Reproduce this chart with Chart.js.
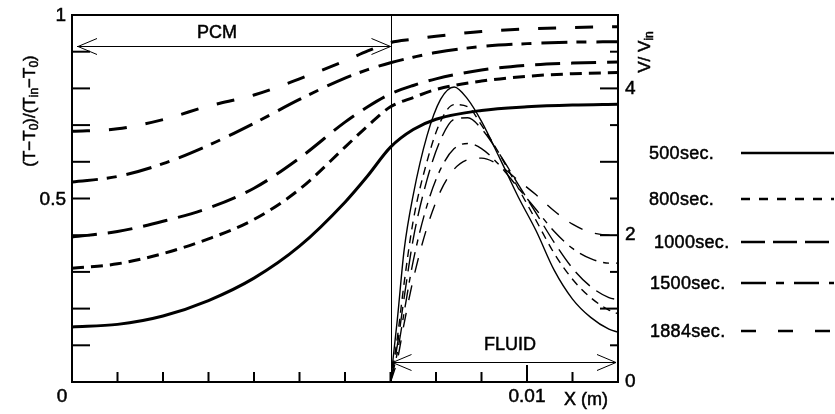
<!DOCTYPE html>
<html><head><meta charset="utf-8">
<script src="https://cdn.jsdelivr.net/npm/chart.js@4.4.0/dist/chart.umd.min.js"></script>
<style>html,body{margin:0;padding:0;background:#fff;}#wrap{width:835px;height:414px;}</style>
</head><body><div id="wrap"><canvas id="c" width="835" height="414"></canvas></div>
<script>
// ---- data (x in metres) ----
const tempX   = [0, 0.001, 0.002, 0.003, 0.004, 0.005, 0.006, 0.0065, 0.007, 0.0075, 0.008, 0.009, 0.010, 0.011, 0.012];
const temp500  = [0.150, 0.157, 0.180, 0.222, 0.283, 0.370, 0.490, 0.562, 0.640, 0.688, 0.716, 0.740, 0.750, 0.755, 0.757];
const temp800  = [0.310, 0.322, 0.350, 0.390, 0.443, 0.525, 0.640, 0.698, 0.750, 0.775, 0.797, 0.820, 0.833, 0.840, 0.843];
const temp1000 = [0.395, 0.410, 0.438, 0.474, 0.528, 0.610, 0.708, 0.750, 0.785, 0.808, 0.826, 0.850, 0.863, 0.869, 0.872];
const temp1500 = [0.545, 0.560, 0.595, 0.645, 0.705, 0.770, 0.828, 0.851, 0.870, 0.885, 0.898, 0.914, 0.922, 0.926, 0.927];
const temp1884 = [0.683, 0.690, 0.715, 0.752, 0.782, 0.826, 0.875, 0.902, 0.925, 0.934, 0.942, 0.955, 0.962, 0.966, 0.968];

const velX    = [0.007, 0.00715, 0.0073, 0.0075, 0.0078, 0.0081, 0.0084, 0.0087, 0.009, 0.0094, 0.0098, 0.0102, 0.0106, 0.011, 0.0114, 0.0118, 0.012];
const vel500  = [0, 0.85, 1.80, 2.55, 3.35, 3.85, 4.02, 3.85, 3.55, 3.05, 2.53, 2.06, 1.52, 1.13, 0.88, 0.72, 0.68];
const vel800  = [0, 0.60, 1.35, 2.20, 3.00, 3.55, 3.78, 3.75, 3.50, 3.10, 2.65, 2.20, 1.75, 1.40, 1.15, 0.98, 0.93];
const vel1000 = [0, 0.50, 1.15, 1.95, 2.75, 3.30, 3.58, 3.60, 3.45, 3.10, 2.70, 2.30, 1.90, 1.55, 1.30, 1.15, 1.12];
const vel1500 = [0, 0.40, 0.95, 1.65, 2.40, 2.90, 3.18, 3.25, 3.18, 2.95, 2.65, 2.35, 2.05, 1.82, 1.68, 1.62, 1.62];
const vel1884 = [0, 0.30, 0.80, 1.40, 2.10, 2.60, 2.90, 3.03, 3.05, 2.95, 2.75, 2.55, 2.33, 2.15, 2.04, 2.00, 2.03];

const seriesLabels = ['500sec.', '800sec.', '1000sec.', '1500sec.', '1884sec.'];
const tempSeries = [temp500, temp800, temp1000, temp1500, temp1884];
const velSeries  = [vel500, vel800, vel1000, vel1500, vel1884];

const xTickVals = [0.001,0.002,0.003,0.004,0.005,0.006,0.007,0.008,0.009,0.010,0.011];
const xTickLabels = [{v:0, t:'0'}, {v:0.01, t:'0.01'}];
const leftTickVals = [0.1,0.2,0.3,0.4,0.5,0.6,0.7,0.8,0.9];
const leftTickLabels = [{v:0.5, t:'0.5'}, {v:1, t:'1'}];
const rightTickVals = [0.5,1,1.5,2,2.5,3,3.5,4,4.5];
const rightTickLabels = [{v:0, t:'0'}, {v:2, t:'2'}, {v:4, t:'4'}];
const pcmBoundary = 0.007;

// ---- styles ----
const tempDash = [[], [12,7], [25,11], [26,9,10,10], [18,19]];
const velDash  = [[], [8,6], [20,8], [18,7,6,7], [15,13]];
const legDash  = [[], [9,9], [24,8], [25,10,8,10], [15,22]];
const FONT = '"Liberation Sans", Arial, Helvetica, sans-serif';

const datasets = [];
seriesLabels.forEach((lab, i) => {
  datasets.push({
    label: lab + ' T', yAxisID: 'yT',
    data: tempX.map((x, k) => ({x, y: tempSeries[i][k]})),
    borderColor: '#000', borderWidth: 3, borderDash: tempDash[i],
    pointRadius: 0, fill: false, cubicInterpolationMode: 'monotone'
  });
  datasets.push({
    label: lab + ' V', yAxisID: 'yV',
    data: velX.map((x, k) => ({x, y: velSeries[i][k]})),
    borderColor: '#000', borderWidth: 1.4, borderDash: velDash[i],
    pointRadius: 0, fill: false, cubicInterpolationMode: 'monotone'
  });
});

function txt(ctx, s, x, y) {
  ctx.fillText(s, x, y);
  ctx.strokeText(s, x, y);
}
function richWidth(ctx, parts, big, small) {
  let w = 0;
  parts.forEach(p => { ctx.font = (p.sub ? small : big) + 'px ' + FONT; w += ctx.measureText(p.t).width; });
  return w;
}
function drawRich(ctx, parts, x, y, big, small) {
  let cx = x;
  parts.forEach(p => {
    ctx.font = (p.sub ? small : big) + 'px ' + FONT;
    txt(ctx, p.t, cx, p.sub ? y + 5 : y);
    cx += ctx.measureText(p.t).width;
  });
}
function arrowHead(ctx, tx, ty, dir) {
  ctx.beginPath();
  ctx.moveTo(tx + dir*19, ty - 8); ctx.lineTo(tx, ty); ctx.lineTo(tx + dir*19, ty + 8);
  ctx.stroke();
}

const deco = {
  id: 'deco',
  afterDraw(chart) {
    const ctx = chart.ctx, a = chart.chartArea;
    const xs = chart.scales.x, yT = chart.scales.yT, yV = chart.scales.yV;
    ctx.save();
    ctx.strokeStyle = '#000'; ctx.fillStyle = '#000';
    // top border
    ctx.lineWidth = 2;
    ctx.beginPath(); ctx.moveTo(a.left - 1, a.top); ctx.lineTo(a.right + 1, a.top); ctx.stroke();
    // boundary line
    const bx = Math.round(xs.getPixelForValue(pcmBoundary)) + 0.5;
    ctx.lineWidth = 1;
    ctx.beginPath(); ctx.moveTo(bx, a.top); ctx.lineTo(bx, a.bottom); ctx.stroke();
    // inward ticks
    ctx.lineWidth = 2;
    leftTickVals.forEach(v => {
      const y = yT.getPixelForValue(v);
      ctx.beginPath(); ctx.moveTo(a.left, y); ctx.lineTo(a.left + 18, y); ctx.stroke();
    });
    xTickVals.forEach(v => {
      const x = xs.getPixelForValue(v);
      const len = Math.abs(v - 0.01) < 1e-9 ? 17 : 10;
      ctx.beginPath(); ctx.moveTo(x, a.bottom); ctx.lineTo(x, a.bottom - len); ctx.stroke();
    });
    rightTickVals.forEach(v => {
      const y = yV.getPixelForValue(v);
      const len = Number.isInteger(v) ? 18 : 8;
      ctx.beginPath(); ctx.moveTo(a.right, y); ctx.lineTo(a.right - len, y); ctx.stroke();
    });
    // tick labels
    ctx.lineWidth = 0.5;
    ctx.font = '19px ' + FONT;
    ctx.textBaseline = 'middle';
    ctx.textAlign = 'right';
    leftTickLabels.forEach(o => txt(ctx, o.t, a.left - 6, yT.getPixelForValue(o.v) + 1));
    ctx.textAlign = 'left';
    rightTickLabels.forEach(o => txt(ctx, o.t, a.right + 7, yV.getPixelForValue(o.v)));
    ctx.textAlign = 'center';
    xTickLabels.forEach(o => {
      const x = xs.getPixelForValue(o.v) + (o.v === 0 ? -10 : 0);
      txt(ctx, o.t, x, a.bottom + 15);
    });
    // x title
    ctx.font = '18px ' + FONT;
    txt(ctx, 'X (m)', 586, a.bottom + 18);
    // left title (rotated)
    const lparts = [{t:'(T\u2212T'},{t:'0',sub:1},{t:')/(T'},{t:'in',sub:1},{t:'\u2212T'},{t:'0',sub:1},{t:')'}];
    ctx.save();
    ctx.translate(30, 111); ctx.rotate(-Math.PI/2);
    ctx.textAlign = 'left'; ctx.textBaseline = 'middle';
    let w = richWidth(ctx, lparts, 17, 12);
    drawRich(ctx, lparts, -w/2, 0, 17, 12);
    ctx.restore();
    // right title (rotated)
    const rparts = [{t:'V/ V'},{t:'in',sub:1}];
    ctx.save();
    ctx.translate(645, 52); ctx.rotate(-Math.PI/2);
    ctx.textAlign = 'left'; ctx.textBaseline = 'middle';
    w = richWidth(ctx, rparts, 17, 12);
    drawRich(ctx, rparts, -w/2, 0, 17, 12);
    ctx.restore();
    // PCM arrow
    ctx.lineWidth = 1;
    const py = 46.5;
    ctx.beginPath(); ctx.moveTo(a.left + 5, py); ctx.lineTo(bx - 1, py); ctx.stroke();
    arrowHead(ctx, a.left + 6, py, 1);
    arrowHead(ctx, bx - 1, py, -1);
    ctx.lineWidth = 0.5;
    ctx.font = '18px ' + FONT; ctx.textAlign = 'center'; ctx.textBaseline = 'middle';
    txt(ctx, 'PCM', 217, 33);
    // FLUID arrow
    ctx.lineWidth = 1;
    const fy = 362.5;
    ctx.beginPath(); ctx.moveTo(bx + 1, fy); ctx.lineTo(a.right - 2, fy); ctx.stroke();
    arrowHead(ctx, bx + 1, fy, 1);
    arrowHead(ctx, a.right - 2, fy, -1);
    ctx.lineWidth = 0.5;
    txt(ctx, 'FLUID', 510, 345);
    // legend
    const legY = [154, 200, 243, 284, 332];
    const legTextX = [649, 649, 654, 650, 650];
    ctx.textAlign = 'left';
    ctx.font = '18px ' + FONT;
    seriesLabels.forEach((lab, i) => {
      ctx.lineWidth = 0.5;
      ctx.letterSpacing = '0.3px';
      txt(ctx, lab, legTextX[i], legY[i]);
      ctx.letterSpacing = '0px';
      ctx.save();
      ctx.lineWidth = 2.5;
      ctx.setLineDash(legDash[i]);
      ctx.beginPath(); ctx.moveTo(741, legY[i] - 1); ctx.lineTo(834, legY[i] - 1); ctx.stroke();
      ctx.restore();
    });
    ctx.restore();
  }
};

new Chart(document.getElementById('c'), {
  type: 'line',
  data: { datasets },
  options: {
    responsive: false, animation: false, devicePixelRatio: 1,
    layout: { padding: { top: 15, left: 0, right: 0, bottom: 0 } },
    plugins: { legend: { display: false }, tooltip: { enabled: false }, title: { display: false } },
    scales: {
      x: { type: 'linear', min: 0, max: 0.012,
           grid: { display: false, drawTicks: false },
           ticks: { display: false },
           border: { display: true, color: '#000', width: 2 },
           afterFit: s => { s.height = 32; } },
      yT: { type: 'linear', position: 'left', min: 0, max: 1,
            grid: { display: false, drawTicks: false },
            ticks: { display: false },
            border: { display: true, color: '#000', width: 2 },
            afterFit: s => { s.width = 72; } },
      yV: { type: 'linear', position: 'right', min: 0, max: 5,
            grid: { display: false, drawTicks: false },
            ticks: { display: false },
            border: { display: true, color: '#000', width: 2 },
            afterFit: s => { s.width = 217; } }
    }
  },
  plugins: [deco]
});
</script>
</body></html>
